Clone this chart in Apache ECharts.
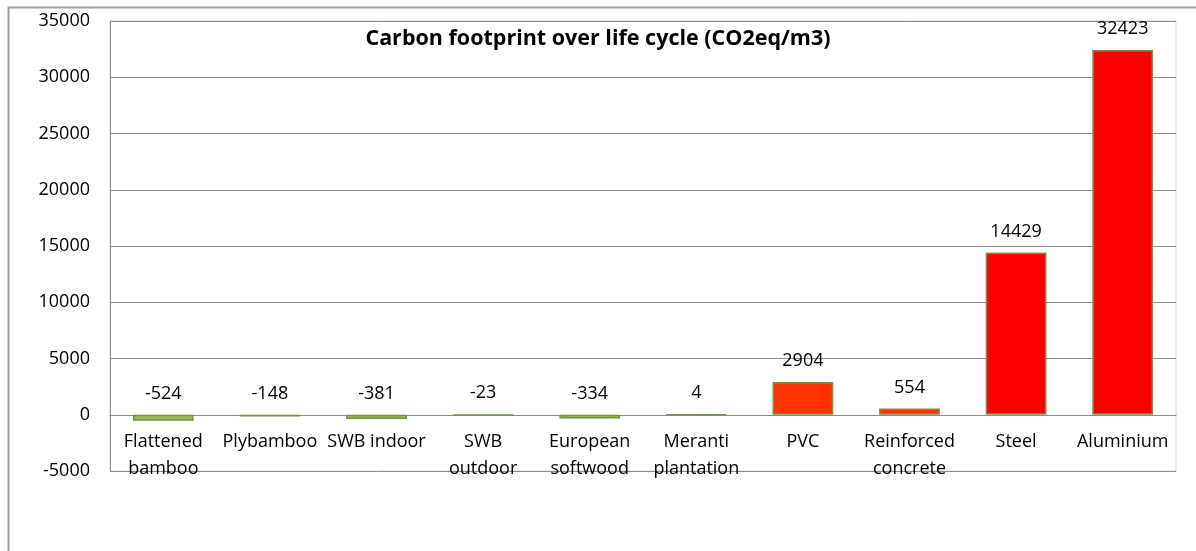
<!DOCTYPE html>
<html>
<head>
<meta charset="utf-8">
<script src="https://cdn.jsdelivr.net/npm/echarts@6/dist/echarts.min.js"></script>
<style>
html,body{margin:0;padding:0;background:#fff;}
#chart{width:1196px;height:551px;}
</style>
</head>
<body>
<div id="chart"></div>
<script>
const categories = ['Flattened\nbamboo','Plybamboo','SWB indoor','SWB\noutdoor','European\nsoftwood','Meranti\nplantation','PVC','Reinforced\nconcrete','Steel','Aluminium'];
const values = [-524, -148, -381, -23, -334, 4, 2904, 554, 14429, 32423];
const barColors = ['#9BBB59','#9BBB59','#9BBB59','#9BBB59','#9BBB59','#9BBB59','#FF3300','#FF3300','#FF0000','#FF0000'];
const titleText = 'Carbon footprint over life cycle (CO2eq/m3)';
const yMin = -5000, yMax = 35000, yStep = 5000;

const FONT = 'Open Sans';
const gridTop = 21, gridBottom = 80, H = 551;
const gridH = H - gridTop - gridBottom;
const zeroOffset = -gridH * (0 - yMin) / (yMax - yMin);

const chart = echarts.init(document.getElementById('chart'), null, {renderer:'canvas'});
chart.setOption({
  animation:false,
  backgroundColor:'#fff',
  textStyle:{fontFamily:FONT},
  title:{
    text:titleText, left:'center', top:23,
    textStyle:{fontFamily:FONT, fontWeight:'bold', fontSize:21.5, color:'#000'}
  },
  graphic:[{
    type:'rect', shape:{x:8.5,y:7.5,width:1220,height:560},
    style:{fill:'none', stroke:'#a0a0a0', lineWidth:2}, silent:true, z:-1
  }],
  grid:{left:110, right:20, top:gridTop, bottom:gridBottom, show:true, borderColor:'#d9d9d9', borderWidth:1, containLabel:false},
  xAxis:{
    type:'category', data:categories, offset:zeroOffset,
    axisLine:{onZero:false, lineStyle:{color:'#8c8c8c', width:1}},
    axisTick:{show:false},
    axisLabel:{interval:0, color:'#000', fontSize:18, lineHeight:27, margin:14, fontFamily:FONT}
  },
  yAxis:{
    type:'value', min:yMin, max:yMax, interval:yStep,
    axisLine:{show:true, lineStyle:{color:'#8c8c8c'}},
    axisTick:{show:false},
    axisLabel:{color:'#000', fontSize:18, margin:20, fontFamily:FONT, formatter:(v)=>String(v)},
    splitLine:{lineStyle:{color:'#8c8c8c', width:1}}
  },
  series:[{
    type:'bar', barWidth:'57%',
    data: values.map((v,i)=>({value:v, itemStyle:{color:barColors[i]}})),
    itemStyle:{borderColor:'#77933C', borderWidth:1.5},
    label:{show:true, position:'top', distance:12, color:'#000', fontSize:18, fontFamily:FONT}
  }]
});
</script>
</body>
</html>
